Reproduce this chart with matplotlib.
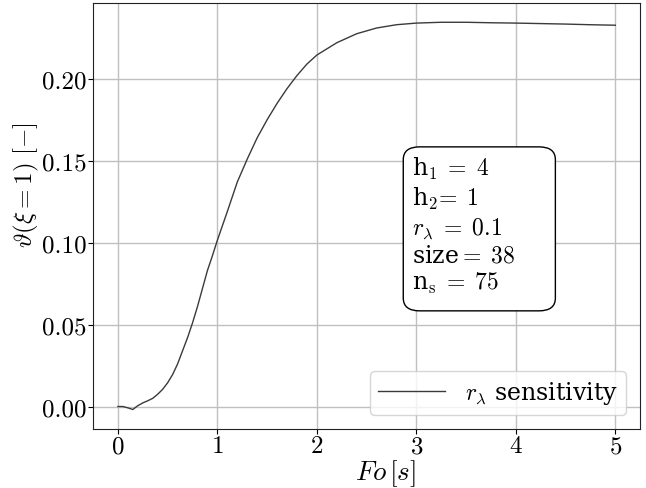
import numpy as np
import matplotlib
matplotlib.use('Agg')
import matplotlib.pyplot as plt
from matplotlib.patches import FancyBboxPatch

# curve
fo = [0.0, 0.05, 0.1, 0.15, 0.2, 0.25, 0.3, 0.35, 0.4, 0.45, 0.5, 0.55, 0.6,
      0.65, 0.7, 0.75, 0.8, 0.85, 0.9, 0.95, 1.0, 1.1, 1.2, 1.3, 1.4, 1.5,
      1.6, 1.7, 1.8, 1.9, 2.0, 2.2, 2.4, 2.6, 2.8, 3.0, 3.25, 3.5, 3.75,
      4.0, 4.25, 4.5, 4.75, 5.0]
theta = [0.0, 0.0, -0.0008, -0.0018, 0.0005, 0.0022, 0.0035, 0.005, 0.0075,
         0.0105, 0.0145, 0.0195, 0.026, 0.034, 0.042, 0.051, 0.061, 0.072,
         0.083, 0.092, 0.1015, 0.119, 0.137, 0.151, 0.164, 0.175, 0.185,
         0.194, 0.202, 0.209, 0.2145, 0.222, 0.2275, 0.231, 0.233, 0.234,
         0.2345, 0.2345, 0.2342, 0.234, 0.2337, 0.2334, 0.233, 0.2327]

x_ticks = [0, 1, 2, 3, 4, 5]
y_ticks = [0.00, 0.05, 0.10, 0.15, 0.20]

param_lines = [r'h$_{1}\;=\;4$',
               r'h$_{2}\!=\;1$',
               r'$r_{\lambda}\;=\;0.1$',
               r'size$=\;38$',
               r'n$_{\mathrm{s}}\;=\;75$']

plt.rcParams['mathtext.fontset'] = 'cm'
plt.rcParams['font.family'] = ['cmr10', 'DejaVu Serif']
plt.rcParams['axes.formatter.use_mathtext'] = True
plt.rcParams['axes.unicode_minus'] = False

fig = plt.figure(figsize=(6.46, 4.89), dpi=100)
ax = fig.add_axes([0.144, 0.121, 0.847, 0.871])

ax.plot(fo, theta, color='#3a3a3a', lw=1.0, label=r'$r_\lambda$ sensitivity')
ax.set_xticks(x_ticks)
ax.set_yticks(y_ticks)
ax.set_yticklabels([f'{v:.2f}' for v in y_ticks])
ax.tick_params(labelsize=18, length=3.5, pad=1)
ax.grid(True, color='#c0c0c0', lw=1.0)
for s in ax.spines.values():
    s.set_color('#222222')

ax.set_xlabel(r'$Fo\,[s]$', fontsize=19.5, x=0.534, labelpad=0)
ax.set_ylabel(r'$\vartheta(\xi=1)\ [-]$', fontsize=18, y=0.575, labelpad=1)

# parameter box
box = FancyBboxPatch((0.567, 0.277), 0.278, 0.385, transform=ax.transAxes,
                     boxstyle='round,pad=0,rounding_size=0.03',
                     facecolor='white', edgecolor='black', lw=1.0, zorder=5)
ax.add_patch(box)
ax.text(0.583, 0.478, '\n'.join(param_lines), transform=ax.transAxes,
        fontsize=17, family='DejaVu Serif', va='center', ha='left',
        linespacing=1.2, zorder=6)

leg = ax.legend(loc='lower right', prop={'family': 'DejaVu Serif', 'size': 17},
                handlelength=2.8, handletextpad=0.85, borderpad=0.35,
                borderaxespad=0.6)

fig.savefig('out.png', dpi=100)
